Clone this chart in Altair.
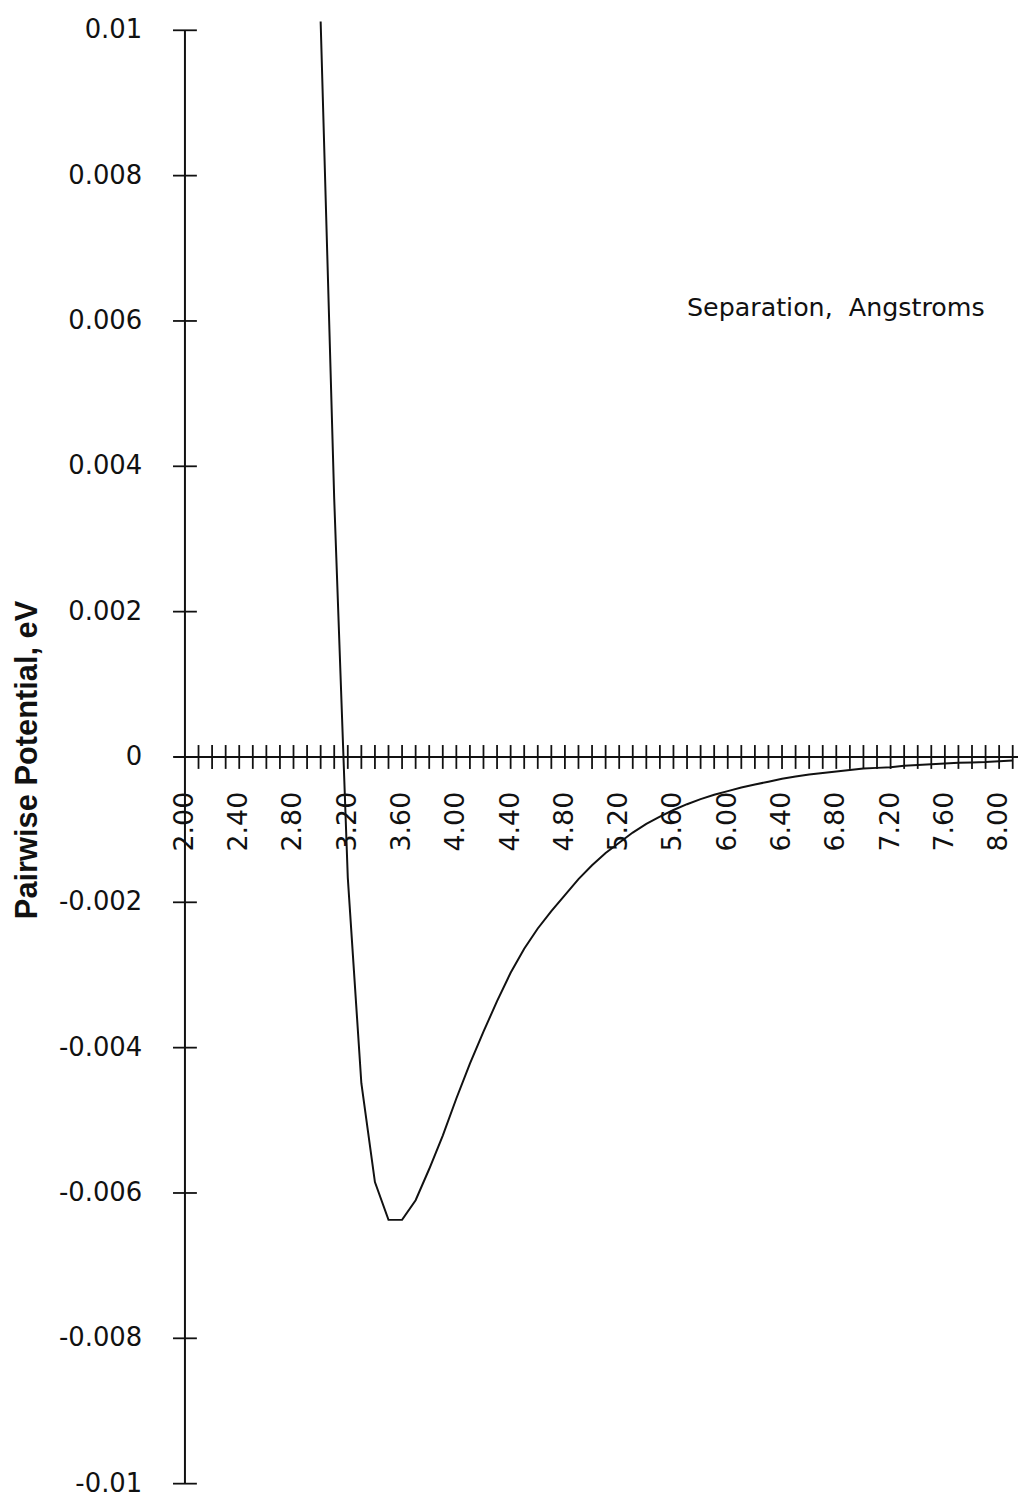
import altair as alt
import pandas as pd

# ---- data ----
separation = [3.0, 3.1, 3.2, 3.3, 3.4, 3.5, 3.6, 3.7, 3.8, 3.9,
              4.0, 4.1, 4.2, 4.3, 4.4, 4.5, 4.6, 4.7, 4.8, 4.9,
              5.0, 5.1, 5.2, 5.3, 5.4, 5.5, 5.6, 5.7, 5.8, 5.9,
              6.0, 6.1, 6.2, 6.3, 6.4, 6.5, 6.6, 6.7, 6.8, 6.9,
              7.0, 7.1, 7.2, 7.3, 7.4, 7.5, 7.6, 7.7, 7.8, 7.9,
              8.0, 8.1]
potential = [0.01012, 0.00355, -0.00166, -0.00449, -0.00585, -0.00637, -0.00637, -0.00610, -0.00567, -0.00521,
             -0.00470, -0.00422, -0.00378, -0.00336, -0.00297, -0.00264, -0.00236, -0.00212, -0.00190, -0.00168,
             -0.00149, -0.00132, -0.00118, -0.00104, -0.00092, -0.00082, -0.00073, -0.00065, -0.00058, -0.00052,
             -0.00047, -0.00042, -0.00038, -0.00034, -0.00030, -0.00027, -0.00024, -0.00022, -0.00020, -0.00018,
             -0.00016, -0.00015, -0.00014, -0.00012, -0.00011, -0.00010, -0.00009, -0.00008, -0.000075, -0.00007,
             -0.00006, -0.00005]

y_tick_values = [0.01, 0.008, 0.006, 0.004, 0.002, 0.0, -0.002, -0.004, -0.006, -0.008, -0.01]
y_tick_labels = ["0.01", "0.008", "0.006", "0.004", "0.002", "0", "-0.002", "-0.004", "-0.006", "-0.008", "-0.01"]

x_label_values = [2.0, 2.4, 2.8, 3.2, 3.6, 4.0, 4.4, 4.8, 5.2, 5.6, 6.0, 6.4, 6.8, 7.2, 7.6, 8.0]
x_label_texts = ["2.00", "2.40", "2.80", "3.20", "3.60", "4.00", "4.40", "4.80",
                 "5.20", "5.60", "6.00", "6.40", "6.80", "7.20", "7.60", "8.00"]

x_minor_ticks = [2.1, 2.2, 2.3, 2.4, 2.5, 2.6, 2.7, 2.8, 2.9, 3.0,
                 3.1, 3.2, 3.3, 3.4, 3.5, 3.6, 3.7, 3.8, 3.9, 4.0,
                 4.1, 4.2, 4.3, 4.4, 4.5, 4.6, 4.7, 4.8, 4.9, 5.0,
                 5.1, 5.2, 5.3, 5.4, 5.5, 5.6, 5.7, 5.8, 5.9, 6.0,
                 6.1, 6.2, 6.3, 6.4, 6.5, 6.6, 6.7, 6.8, 6.9, 7.0,
                 7.1, 7.2, 7.3, 7.4, 7.5, 7.6, 7.7, 7.8, 7.9, 8.0, 8.1]

x_title = "Separation,\u00a0 Angstroms"
y_title = "Pairwise Potential, eV"

# ---- layout ----
W, H = 838, 1462
X_MIN, X_MAX = 2.0, 8.139
INK = "#111111"

xs = alt.Scale(domain=[X_MIN, X_MAX], nice=False, zero=False)
ys = alt.Scale(domain=[-0.01, 0.01], nice=False, zero=False)

curve_df = pd.DataFrame({"r": separation, "u": potential})
ytick_df = pd.DataFrame({"v": y_tick_values, "lab": y_tick_labels})
xlab_df = pd.DataFrame({"t": x_label_values, "lab": x_label_texts})
xtick_df = pd.DataFrame({"t": x_minor_ticks})
one = pd.DataFrame({"a": [0]})

curve = alt.Chart(curve_df).mark_line(color=INK, strokeWidth=2, clip=False).encode(
    x=alt.X("r:Q", scale=xs, axis=None),
    y=alt.Y("u:Q", scale=ys, axis=None),
)

y_axis_line = alt.Chart(one).mark_rule(color=INK, strokeWidth=2).encode(
    x=alt.X(datum=X_MIN, type="quantitative", axis=None),
    y=alt.Y(datum=-0.01, type="quantitative", axis=None),
    y2=alt.Y2(datum=0.01),
)

x_axis_line = alt.Chart(one).mark_rule(color=INK, strokeWidth=2).encode(
    x=alt.X(datum=1.92, type="quantitative", axis=None),
    x2=alt.X2(datum=X_MAX),
    y=alt.Y(datum=0, type="quantitative", axis=None),
)

x_ticks = alt.Chart(xtick_df).mark_tick(orient="vertical", size=24, thickness=1.8, color=INK, opacity=1).encode(
    x=alt.X("t:Q", axis=None),
    y=alt.Y(datum=0, type="quantitative", axis=None),
)

y_ticks = alt.Chart(ytick_df).mark_tick(orient="horizontal", size=24, thickness=1.8, color=INK, opacity=1).encode(
    y=alt.Y("v:Q", axis=None),
    x=alt.X(datum=X_MIN, type="quantitative", axis=None),
)

y_labels = alt.Chart(ytick_df).mark_text(
    align="right", baseline="middle", dx=-43, font="DejaVu Sans", fontSize=26, color=INK
).encode(
    y=alt.Y("v:Q", axis=None),
    x=alt.X(datum=X_MIN, type="quantitative", axis=None),
    text="lab:N",
)

x_labels = alt.Chart(xlab_df).mark_text(
    angle=270, align="right", baseline="middle", dx=-35, font="DejaVu Sans", fontSize=27, color=INK
).encode(
    x=alt.X("t:Q", axis=None),
    y=alt.Y(datum=0, type="quantitative", axis=None),
    text="lab:N",
)

x_title_mark = alt.Chart(one).mark_text(
    align="left", baseline="middle", font="DejaVu Sans", fontSize=25.5, color=INK, text=x_title
).encode(x=alt.value(505), y=alt.value(279))

y_title_mark = alt.Chart(one).mark_text(
    align="center", baseline="middle", angle=270, font="Liberation Sans", fontSize=31,
    fontWeight="bold", color=INK, text=y_title
).encode(x=alt.value(-158), y=alt.value(H / 2 + 3))

chart = alt.layer(
    curve, y_axis_line, x_axis_line, x_ticks, y_ticks, y_labels, x_labels, x_title_mark, y_title_mark
).properties(
    width=W, height=H,
    background="white",
    autosize=alt.AutoSizeParams(type="none"),
    padding={"left": 178, "top": 18, "right": 0, "bottom": 9},
).configure_view(stroke=None, strokeWidth=0).configure_axis(grid=False)

chart.save("out.html", embed_options={"renderer": "svg", "actions": False})
